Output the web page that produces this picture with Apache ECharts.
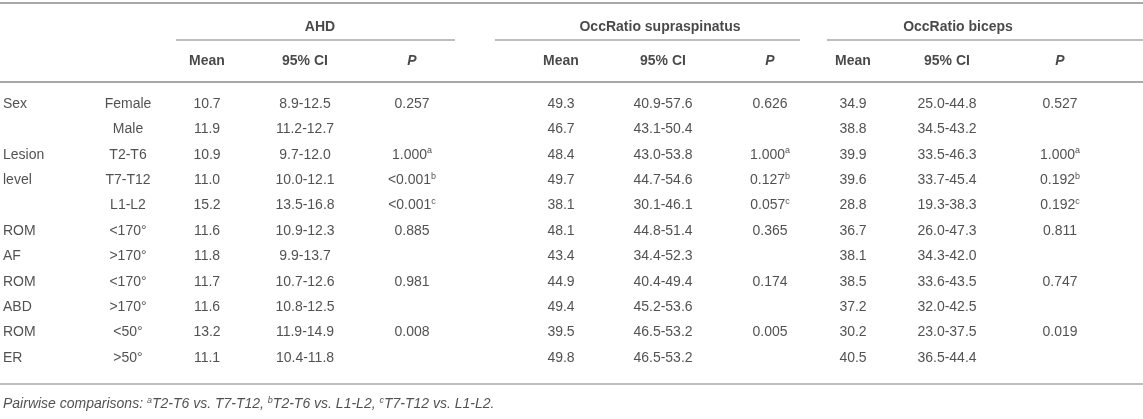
<!DOCTYPE html>
<html>
<head>
<meta charset="utf-8">
<script src="https://cdn.jsdelivr.net/npm/echarts@6/dist/echarts.min.js"></script>
<style>
  html, body { margin: 0; padding: 0; background: #fff; }
  #table { width: 1143px; height: 419px; }
</style>
</head>
<body>
<div id="table"></div>
<script>
// table content
var groups = ['AHD', 'OccRatio supraspinatus', 'OccRatio biceps'];
var subHeads = ['Mean', '95% CI', 'P'];
var factors = ['Sex', '', 'Lesion', 'level', '', 'ROM', 'AF', 'ROM', 'ABD', 'ROM', 'ER'];
var levels = ['Female', 'Male', 'T2-T6', 'T7-T12', 'L1-L2', '<170°', '>170°', '<170°', '>170°', '<50°', '>50°'];

var ahdMean = [10.7, 11.9, 10.9, 11.0, 15.2, 11.6, 11.8, 11.7, 11.6, 13.2, 11.1];
var ahdCI = ['8.9-12.5', '11.2-12.7', '9.7-12.0', '10.0-12.1', '13.5-16.8', '10.9-12.3', '9.9-13.7', '10.7-12.6', '10.8-12.5', '11.9-14.9', '10.4-11.8'];
var ahdP = ['0.257', '', '1.000', '<0.001', '<0.001', '0.885', '', '0.981', '', '0.008', ''];

var supMean = [49.3, 46.7, 48.4, 49.7, 38.1, 48.1, 43.4, 44.9, 49.4, 39.5, 49.8];
var supCI = ['40.9-57.6', '43.1-50.4', '43.0-53.8', '44.7-54.6', '30.1-46.1', '44.8-51.4', '34.4-52.3', '40.4-49.4', '45.2-53.6', '46.5-53.2', '46.5-53.2'];
var supP = ['0.626', '', '1.000', '0.127', '0.057', '0.365', '', '0.174', '', '0.005', ''];

var bicMean = [34.9, 38.8, 39.9, 39.6, 28.8, 36.7, 38.1, 38.5, 37.2, 30.2, 40.5];
var bicCI = ['25.0-44.8', '34.5-43.2', '33.5-46.3', '33.7-45.4', '19.3-38.3', '26.0-47.3', '34.3-42.0', '33.6-43.5', '32.0-42.5', '23.0-37.5', '36.5-44.4'];
var bicP = ['0.527', '', '1.000', '0.192', '0.192', '0.811', '', '0.747', '', '0.019', ''];

// superscript letters on the lesion level P values
var pMarks = ['', '', 'a', 'b', 'c', '', '', '', '', '', ''];

var noteParts = [
    ['Pairwise comparisons: ', ''], ['a', 'sup'], ['T2-T6 vs. T7-T12, ', ''],
    ['b', 'sup'], ['T2-T6 vs. L1-L2, ', ''], ['c', 'sup'], ['T7-T12 vs. L1-L2.', '']
];

// layout (x in page px, y in row units: body row i sits at y = i)
var colX = [3, 128, 207, 305, 412, 561, 663, 770, 853, 947, 1060];
var groupX = [320, 660, 958];
var groupLine = [[176, 455], [495, 800], [827, 1143]];
var ROW0 = 104, PITCH = 25.4;
function rowOf(px) { return (px - ROW0) / PITCH; }
var yGroup = rowOf(27), yGroupLine = rowOf(40), ySub = rowOf(61);
var yHeadLine = rowOf(82), yTop = rowOf(3), yBottom = rowOf(384), yNote = rowOf(404);

var FONT = '"Liberation Sans", Arial, Helvetica, sans-serif';
var TXT = '#262626';
var RULE = '#a8a8a8';

var rich = {
    n: { fontSize: 14, color: TXT, fontFamily: FONT, lineHeight: 17 },
    s: { fontSize: 9, color: TXT, fontFamily: FONT, lineHeight: 10, verticalAlign: 'top' },
    ni: { fontSize: 14, color: TXT, fontFamily: FONT, lineHeight: 17, fontStyle: 'italic' },
    si: { fontSize: 9, color: TXT, fontFamily: FONT, lineHeight: 10, verticalAlign: 'top', fontStyle: 'italic' }
};

function esc(t) { return String(t).replace(/[{}|]/g, ''); }

var cells = [];
function addCell(x, y, text, align) {
    cells.push({
        value: [x, y],
        label: { align: align || 'center', formatter: text }
    });
}

var blocks = [[ahdMean, ahdCI, ahdP], [supMean, supCI, supP], [bicMean, bicCI, bicP]];
for (var i = 0; i < levels.length; i++) {
    if (factors[i]) addCell(colX[0], i, '{n|' + esc(factors[i]) + '}', 'left');
    addCell(colX[1], i, '{n|' + esc(levels[i]) + '}');
    for (var g = 0; g < blocks.length; g++) {
        var b = blocks[g];
        addCell(colX[2 + g * 3], i, '{n|' + b[0][i].toFixed(1) + '}');
        addCell(colX[3 + g * 3], i, '{n|' + b[1][i] + '}');
        if (b[2][i]) {
            var t = '{n|' + b[2][i] + '}';
            if (pMarks[i]) t += '{s|' + pMarks[i] + '}';
            addCell(colX[4 + g * 3], i, t);
        }
    }
}

var heads = [];
for (var g = 0; g < groups.length; g++) {
    heads.push({ value: [groupX[g], yGroup], label: { formatter: groups[g] } });
    for (var k = 0; k < subHeads.length; k++) {
        heads.push({
            value: [colX[2 + g * 3 + k], ySub],
            label: { formatter: subHeads[k], fontStyle: subHeads[k] === 'P' ? 'italic' : 'normal' }
        });
    }
}

var noteText = noteParts.map(function (p) {
    return '{' + (p[1] === 'sup' ? 'si' : 'ni') + '|' + p[0] + '}';
}).join('');

var rules = [
    { coords: [[0, yTop], [1143, yTop]], lineStyle: { width: 2 } },
    { coords: [[0, yHeadLine], [1143, yHeadLine]], lineStyle: { width: 2 } },
    { coords: [[0, yBottom], [1143, yBottom]], lineStyle: { width: 1.5 } }
];
groupLine.forEach(function (s) {
    rules.push({ coords: [[s[0], yGroupLine], [s[1], yGroupLine]], lineStyle: { width: 1.5 } });
});

var option = {
    animation: false,
    backgroundColor: '#fff',
    grid: { left: 0, right: 0, top: 0, bottom: 0 },
    xAxis: { type: 'value', min: 0, max: 1143, show: false },
    yAxis: { type: 'value', inverse: true, min: rowOf(0), max: rowOf(419), show: false },
    series: [
        {
            name: 'rules',
            type: 'lines',
            coordinateSystem: 'cartesian2d',
            silent: true,
            lineStyle: { color: RULE, opacity: 1 },
            data: rules
        },
        {
            name: 'cells',
            type: 'scatter',
            symbolSize: 0,
            silent: true,
            label: { show: true, position: 'inside', verticalAlign: 'middle', rich: rich },
            data: cells
        },
        {
            name: 'heads',
            type: 'scatter',
            symbolSize: 0,
            silent: true,
            label: {
                show: true, position: 'inside', align: 'center', verticalAlign: 'middle',
                fontFamily: FONT, fontSize: 14, fontWeight: 'bold', color: '#1a1a1a'
            },
            data: heads
        },
        {
            name: 'note',
            type: 'scatter',
            symbolSize: 0,
            silent: true,
            label: { show: true, position: 'inside', align: 'left', verticalAlign: 'middle', rich: rich, formatter: noteText },
            data: [[colX[0], yNote]]
        }
    ]
};

var chart = echarts.init(document.getElementById('table'));
chart.setOption(option);
</script>
</body>
</html>
